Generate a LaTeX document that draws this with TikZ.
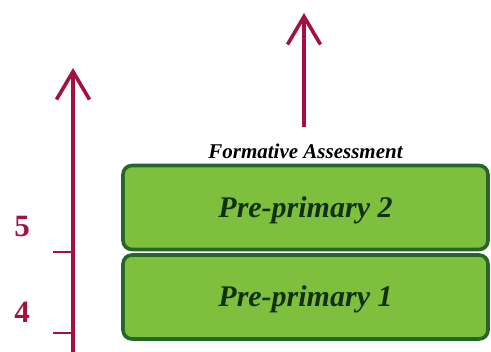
\documentclass[tikz,border=0pt]{standalone}
\usepackage{fontspec}
\setmainfont{Liberation Serif}
\usepackage{xcolor}
\usetikzlibrary{arrows.meta,positioning}
\definecolor{axisred}{RGB}{163,18,62}
\definecolor{boxgreen}{RGB}{126,192,62}
\definecolor{edgegreen}{RGB}{38,102,42}
\definecolor{textgreen}{RGB}{18,48,20}

\begin{document}
\begin{tikzpicture}[x=1pt,y=1pt,
    uparrow/.style={draw=axisred, line width=3.6pt,
      -{Straight Barb[length=28pt,width=33pt,line width=3.6pt]}},
    tickline/.style={draw=axisred, line width=2.6pt},
    levelnum/.style={text=axisred, font=\bfseries\fontsize{31}{31}\selectfont},
    stagebox/.style={draw=edgegreen, fill=boxgreen, line width=3.6pt,
      rounded corners=9pt, minimum width=365pt, minimum height=84pt,
      text height=24pt, text depth=4pt,
      text=textgreen, font=\bfseries\itshape\fontsize{30}{30}\selectfont},
    caption/.style={font=\bfseries\itshape\fontsize{21}{21}\selectfont}]
    \useasboundingbox (0,0) rectangle (491,352);
    % axis on the left
    \coordinate (axisbot) at (73,-4);
    \coordinate (axistop) at (73,284);
    \coordinate (tickfive) at (73,100);
    \coordinate (tickfour) at (73,19);
    \draw[uparrow] (axisbot) -- (axistop);
    \draw[tickline] (tickfive) -- ++(-20,0);
    \draw[tickline] (tickfour) -- ++(-20,0);
    \node[levelnum] (numfive) at (22,125) {5};
    \node[levelnum] (numfour) at (22,40) {4};
    % stages
    \node[stagebox] (pp1) at (305.5,55) {Pre-primary 1};
    \node[stagebox] (pp2) at (305.5,144.5) {Pre-primary 2};
    \node[caption, above=1pt of pp2] (formative) {Formative Assessment};
    \coordinate (toptip) at (304,339);
    \draw[uparrow, shorten <=14pt] (formative.north -| toptip) -- (toptip);
\end{tikzpicture}
\end{document}
